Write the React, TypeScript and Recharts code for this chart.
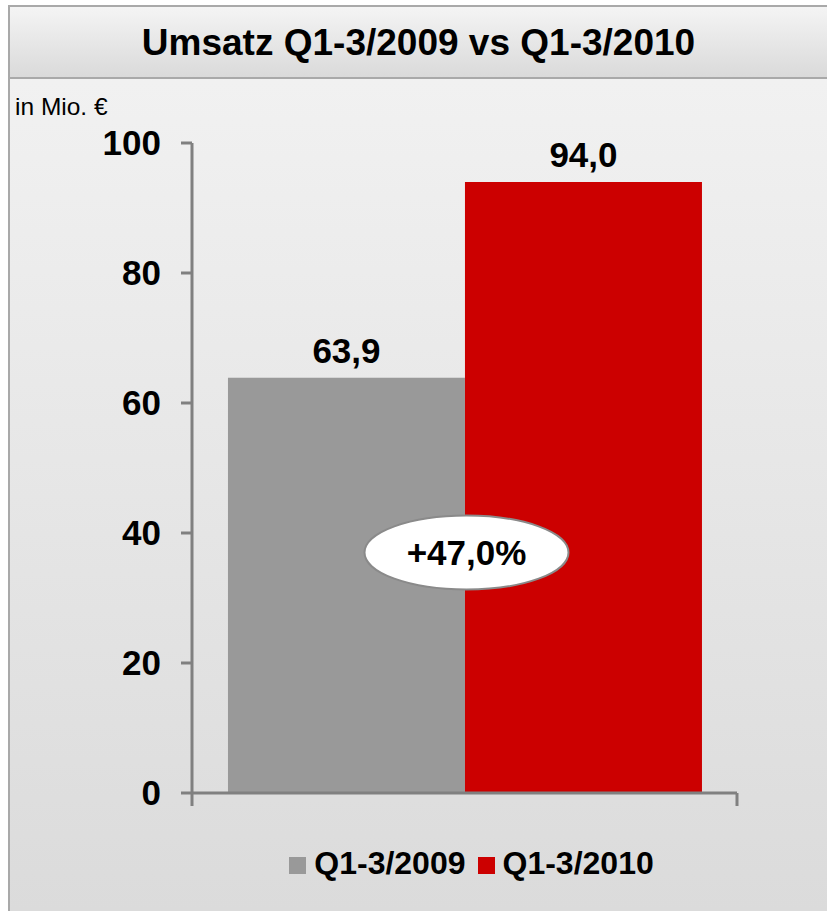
import { BarChart, Bar, XAxis, YAxis, Legend, LabelList, ReferenceDot } from 'recharts';

const categories = ['Umsatz'];
const seriesNames = ['Q1-3/2009', 'Q1-3/2010'];
const values2009 = [63.9];
const values2010 = [94.0];
const yTicks = [0, 20, 40, 60, 80, 100];
const growthText = '+47,0%';
const growthAt = 37;

const FONT = '"Liberation Sans", Arial, sans-serif';
const AXIS_GREY = '#808080';

const chartData = categories.map((name, i) => ({
    name,
    y2009: values2009[i],
    y2010: values2010[i]
}));

const fmt = (v: any) => Number(v).toFixed(1).replace('.', ',');

// Excel style: category ticks sit on the band edges, not the centre
const EdgeTick = (props: any) => {
    const { x, y, payload, width } = props;
    const half = payload && payload.offset ? payload.offset : width / 2;
    return (
        <g>
            <line x1={x - half} x2={x - half} y1={y} y2={y + 13} stroke={AXIS_GREY} strokeWidth={3} />
            <line x1={x + half} x2={x + half} y1={y} y2={y + 13} stroke={AXIS_GREY} strokeWidth={3} />
        </g>
    );
};

const GrowthBubble = (props: any) => {
    const { cx, cy } = props;
    return (
        <g>
            <ellipse cx={cx + 2} cy={cy} rx={102} ry={37} fill="#fff" stroke="#8a8a8a" strokeWidth={2} />
            <text x={cx + 2} y={cy} dy={12} textAnchor="middle" fontFamily={FONT} fontWeight="bold" fontSize={35} fill="#000">
                {growthText}
            </text>
        </g>
    );
};

const App = () => {
    return (
        <div style={{ position: 'absolute', left: 0, top: 0, width: 827, height: 911, overflow: 'hidden', background: '#fff', fontFamily: FONT }}>
            <div
                style={{
                    position: 'absolute',
                    left: 8,
                    top: 5,
                    right: 0,
                    bottom: 0,
                    borderLeft: '2px solid #a9a9a9',
                    borderTop: '2px solid #a9a9a9',
                    background: 'linear-gradient(#f3f3f3, #dbdbdb)'
                }}
            >
                <div
                    style={{
                        height: 72,
                        borderBottom: '2px solid #a9a9a9',
                        background: 'linear-gradient(#f4f4f4, #dadada)',
                        display: 'flex',
                        alignItems: 'center',
                        justifyContent: 'center',
                        fontWeight: 'bold',
                        fontSize: 37,
                        color: '#000',
                        paddingTop: 2,
                        boxSizing: 'border-box'
                    }}
                >
                    Umsatz Q1-3/2009 vs Q1-3/2010
                </div>
                <div style={{ position: 'absolute', left: 5, top: 86, fontSize: 24.5, color: '#000' }}>in Mio. €</div>
            </div>

            <div style={{ position: 'absolute', left: 0, top: 0 }}>
                <BarChart
                    width={827}
                    height={911}
                    data={chartData}
                    margin={{ top: 143, right: 90, left: 92, bottom: 10 }}
                    barCategoryGap="6.6%"
                    barGap={0}
                >
                    <XAxis dataKey="name" hide height={0} />
                    <XAxis
                        xAxisId="edge"
                        dataKey="name"
                        height={30}
                        axisLine={{ stroke: AXIS_GREY, strokeWidth: 3 }}
                        tickLine={false}
                        tickSize={0}
                        tickMargin={0}
                        tick={EdgeTick}
                    />
                    <YAxis
                        domain={[0, 100]}
                        ticks={yTicks}
                        width={100}
                        axisLine={{ stroke: AXIS_GREY, strokeWidth: 3 }}
                        tickLine={{ stroke: AXIS_GREY, strokeWidth: 3 }}
                        tickSize={11}
                        tickMargin={20}
                        tick={{ fill: '#000', fontSize: 35, fontWeight: 'bold', fontFamily: FONT }}
                    />
                    <Legend
                        verticalAlign="bottom"
                        iconType="square"
                        iconSize={17}
                        formatter={(value: any) => <span style={{ color: '#000', marginLeft: 4, marginRight: 2 }}>{value}</span>}
                        wrapperStyle={{
                            top: 845,
                            bottom: 'auto',
                            left: 205,
                            width: 545,
                            height: 78,
                            fontFamily: FONT,
                            fontWeight: 'bold',
                            fontSize: 32,
                            lineHeight: '36px'
                        }}
                    />
                    <Bar dataKey="y2009" name={seriesNames[0]} fill="#999999" isAnimationActive={false}>
                        <LabelList dataKey="y2009" position="top" offset={15} formatter={fmt} fill="#000" fontSize={35} fontWeight="bold" fontFamily={FONT} />
                    </Bar>
                    <Bar dataKey="y2010" name={seriesNames[1]} fill="#cc0000" isAnimationActive={false}>
                        <LabelList dataKey="y2010" position="top" offset={15} formatter={fmt} fill="#000" fontSize={35} fontWeight="bold" fontFamily={FONT} />
                    </Bar>
                    <ReferenceDot x={categories[0]} y={growthAt} shape={GrowthBubble} />
                </BarChart>
            </div>
        </div>
    );
};

export default App;
